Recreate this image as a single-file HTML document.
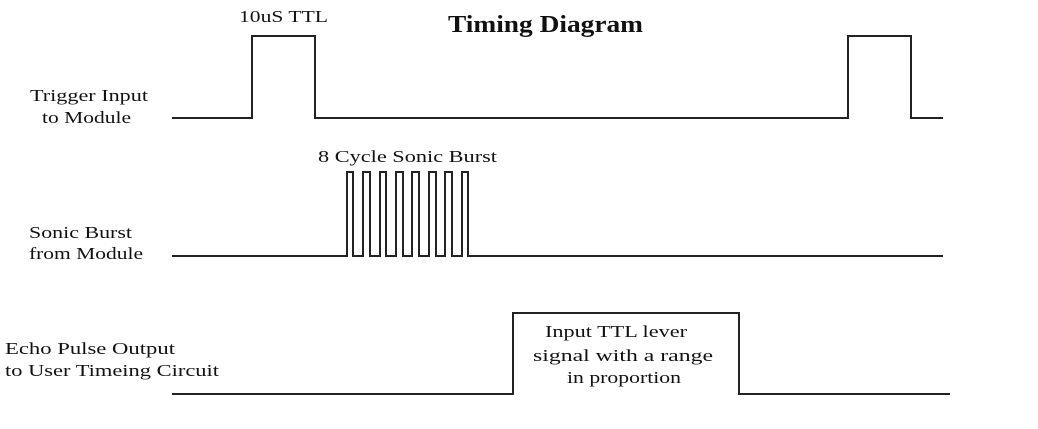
<!DOCTYPE html>
<html><head><meta charset="utf-8"><style>
html,body{margin:0;padding:0;background:#fff;}
svg{display:block;}
text{font-family:"Liberation Serif","DejaVu Serif",serif;fill:#111;}
</style></head><body>
<svg width="1038" height="429" viewBox="0 0 1038 429" xmlns="http://www.w3.org/2000/svg">
<g fill="none" stroke="#222" stroke-width="2">
<polyline points="172,118 252,118 252,36 315,36 315,118 848,118 848,36 911,36 911,118 943,118"/>
<polyline points="172,256 347,256 347,172 353,172 353,256 363,256 363,172 370,172 370,256 380,256 380,172 386,172 386,256 396,256 396,172 403,172 403,256 412,256 412,172 419,172 419,256 429,256 429,172 436,172 436,256 445,256 445,172 452,172 452,256 462,256 462,172 468,172 468,256 943,256"/>
<polyline points="172,394 513,394 513,313 739,313 739,394 950,394"/>
</g>
<text x="239" y="22" font-size="17" textLength="89" lengthAdjust="spacingAndGlyphs">10uS TTL</text>
<text x="448" y="32" font-size="24" font-weight="bold" textLength="195" lengthAdjust="spacingAndGlyphs">Timing  Diagram</text>
<text x="30" y="101" font-size="17" textLength="118" lengthAdjust="spacingAndGlyphs">Trigger Input</text>
<text x="42" y="123" font-size="17" textLength="89" lengthAdjust="spacingAndGlyphs">to Module</text>
<text x="318" y="162" font-size="17" textLength="179" lengthAdjust="spacingAndGlyphs">8 Cycle Sonic Burst</text>
<text x="29" y="238" font-size="17" textLength="103" lengthAdjust="spacingAndGlyphs">Sonic Burst</text>
<text x="29" y="259" font-size="17" textLength="114" lengthAdjust="spacingAndGlyphs">from Module</text>
<text x="5" y="354" font-size="17" textLength="170" lengthAdjust="spacingAndGlyphs">Echo Pulse Output</text>
<text x="5" y="376" font-size="17" textLength="214" lengthAdjust="spacingAndGlyphs">to User Timeing Circuit</text>
<text x="545" y="337" font-size="17" textLength="142" lengthAdjust="spacingAndGlyphs">Input TTL lever</text>
<text x="533" y="361" font-size="17" textLength="180" lengthAdjust="spacingAndGlyphs">signal with a range</text>
<text x="567" y="383" font-size="17" textLength="114" lengthAdjust="spacingAndGlyphs">in proportion</text>
</svg>
</body></html>
